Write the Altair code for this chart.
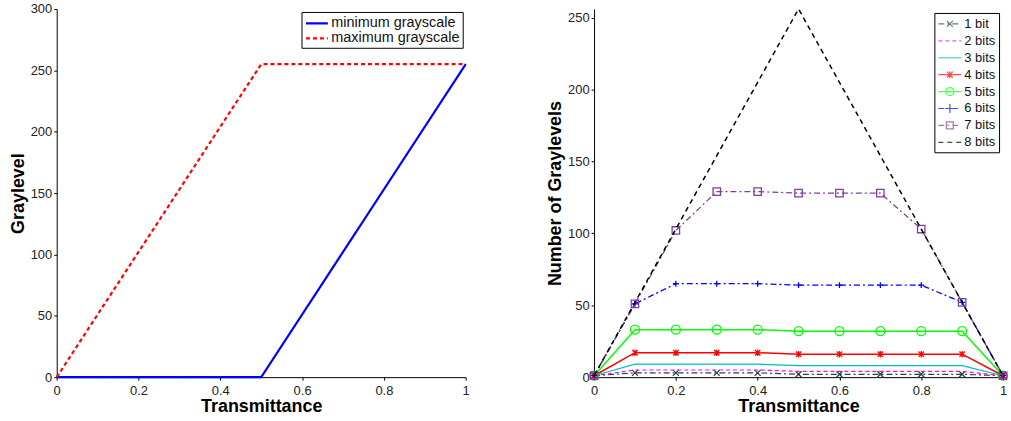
import altair as alt
import pandas as pd

# ---------------- data: left panel ----------------
left_t = [0, 0.5, 1]
min_grayscale = [0, 0, 255]
max_grayscale = [0, 255, 255]
left_names = ["minimum grayscale", "maximum grayscale"]

# ---------------- data: right panel ----------------
trans = [0, 0.1, 0.2, 0.3, 0.4, 0.5, 0.6, 0.7, 0.8, 0.9, 1.0]
bits_1 = [1, 3, 3, 3, 3, 2, 2, 2, 2, 2, 1]
bits_2 = [1, 5, 5, 5, 5, 4, 4, 4, 4, 4, 1]
bits_3 = [1, 9, 9, 9, 9, 8, 8, 8, 8, 8, 1]
bits_4 = [1, 17, 17, 17, 17, 16, 16, 16, 16, 16, 1]
bits_5 = [1, 33, 33, 33, 33, 32, 32, 32, 32, 32, 1]
bits_6 = [1, 51, 65, 65, 65, 64, 64, 64, 64, 52, 1]
bits_7 = [1, 51, 102, 129, 129, 128, 128, 128, 103, 52, 1]
bits_8 = [1, 52, 103, 154, 205, 256, 205, 154, 103, 52, 1]
right_names = ["1 bit", "2 bits", "3 bits", "4 bits", "5 bits", "6 bits", "7 bits", "8 bits"]
right_values = [bits_1, bits_2, bits_3, bits_4, bits_5, bits_6, bits_7, bits_8]

FONT = "Liberation Sans"

# ---------------- styles ----------------
X_MARK = "M-1,-1L1,1M-1,1L1,-1"
PLUS_MARK = "M-1,0L1,0M0,-1L0,1"
AST_MARK = "M-1,-1L1,1M-1,1L1,-1M0,-1.2L0,1.2"
styles = [
    dict(color="#244444", dash=[6, 3, 2, 3], width=1.2, marker=X_MARK, msize=36),
    dict(color="#ff00ff", dash=[4, 3], width=1.2, marker=None, msize=0),
    dict(color="#00bfbf", dash=None, width=1.2, marker=None, msize=0),
    dict(color="#ff0000", dash=None, width=1.5, marker=AST_MARK, msize=30),
    dict(color="#00ff00", dash=None, width=1.5, marker="circle", msize=81),
    dict(color="#0000ff", dash=[6, 3, 2, 3], width=1.3, marker=PLUS_MARK, msize=36),
    dict(color="#7f3f98", dash=[6, 3, 2, 3], width=1.3, marker="square", msize=56),
    dict(color="#000000", dash=[5, 4], width=1.5, marker=None, msize=0),
]

# legend symbol geometry (units: 1 unit = 7 px with symbolSize 196)
UNIT = 7.0
L0, L1 = -1.0, 2.3
MC = (L0 + L1) / 2


def dashed_path(pattern):
    if not pattern:
        return f"M{L0},0L{L1},0"
    segs = []
    pos = L0
    i = 0
    while pos < L1:
        L = pattern[i % len(pattern)] / UNIT
        end = min(pos + L, L1)
        if i % 2 == 0:
            segs.append(f"M{pos:.3f},0L{end:.3f},0")
        pos = end
        i += 1
    return "".join(segs)


def legend_marker(marker):
    if marker is None:
        return ""
    if marker == "circle":
        r = 0.57
        return f"M{MC - r:.3f},0A{r},{r} 0 1,0 {MC + r:.3f},0A{r},{r} 0 1,0 {MC - r:.3f},0"
    if marker == "square":
        s = 0.5
        return f"M{MC - s:.3f},{-s}L{MC + s:.3f},{-s}L{MC + s:.3f},{s}L{MC - s:.3f},{s}Z"
    if marker == PLUS_MARK:
        s = 0.64
        return f"M{MC - s:.3f},0L{MC + s:.3f},0M{MC:.3f},{-s}L{MC:.3f},{s}"
    s = 0.43
    p = f"M{MC - s:.3f},{-s}L{MC + s:.3f},{s}M{MC - s:.3f},{s}L{MC + s:.3f},{-s}"
    if marker == AST_MARK:
        p += f"M{MC:.3f},{-0.5}L{MC:.3f},{0.5}"
    return p


legend_paths = [dashed_path(st["dash"]) + legend_marker(st["marker"]) for st in styles]
legend_colors = [st["color"] for st in styles]
LABEL_OFF = (L1 - 1.0) * UNIT + 2

x_axis = alt.Axis(values=[0, 0.2, 0.4, 0.6, 0.8, 1], format="~g", title="Transmittance",
                  tickSize=3, labelPadding=4, titlePadding=1)

# ---------------- left chart ----------------
left_rows = []
for t, a, b in zip(left_t, min_grayscale, max_grayscale):
    left_rows.append({"t": t, "g": a, "s": left_names[0]})
    left_rows.append({"t": t, "g": b, "s": left_names[1]})
left_df = pd.DataFrame(left_rows)

left_legend = alt.Legend(title=None, orient="top-right", offset=3, strokeColor="black",
                         fillColor="white", padding=3, labelFontSize=14.5, labelFont=FONT,
                         labelColor="#111", symbolType="M-1,0L2.14,0", symbolSize=196,
                         symbolStrokeWidth=2.2, rowPadding=0, labelOffset=10)
left = alt.Chart(left_df).mark_line(strokeWidth=2.2).encode(
    x=alt.X("t:Q", scale=alt.Scale(domain=[0, 1], nice=False), axis=x_axis),
    y=alt.Y("g:Q", scale=alt.Scale(domain=[0, 300], nice=False),
            axis=alt.Axis(values=[0, 50, 100, 150, 200, 250, 300], title="Graylevel",
                          tickSize=3, labelPadding=2, titlePadding=3)),
    color=alt.Color("s:N", scale=alt.Scale(domain=left_names, range=["#0000ff", "#ff0000"]),
                    legend=left_legend),
    strokeDash=alt.StrokeDash("s:N", scale=alt.Scale(domain=left_names, range=[[1, 0], [4, 3]]),
                              legend=left_legend),
).properties(width=411, height=370)

# ---------------- right chart ----------------
rx = alt.X("t:Q", scale=alt.Scale(domain=[0, 1], nice=False), axis=x_axis)
ry = alt.Y("n:Q", scale=alt.Scale(domain=[0, 256], nice=False),
           axis=alt.Axis(values=[0, 50, 100, 150, 200, 250], title="Number of Graylevels",
                         tickSize=3, labelPadding=2, titlePadding=3))

layers = []
for name, vals, st in zip(right_names, right_values, styles):
    df = pd.DataFrame({"t": trans, "n": vals})
    lk = dict(color=st["color"], strokeWidth=st["width"])
    if st["dash"]:
        lk["strokeDash"] = st["dash"]
    layers.append(alt.Chart(df).mark_line(**lk).encode(x=rx, y=ry))
    if st["marker"]:
        layers.append(alt.Chart(df).mark_point(shape=st["marker"], size=st["msize"], filled=False,
                                               color=st["color"], strokeWidth=1.3, opacity=1)
                      .encode(x=rx, y=ry))

right_legend = alt.Legend(title=None, orient="top-right", offset=4, strokeColor="black",
                          fillColor="white", padding=3, labelFontSize=13, labelFont=FONT,
                          labelColor="#111", symbolSize=196, symbolStrokeWidth=1.2,
                          rowPadding=2, labelOffset=LABEL_OFF)
leg_df = pd.DataFrame({"t": [0.0] * len(right_names), "n": [-1] * len(right_names), "r": right_names})
legend_layer = alt.Chart(leg_df).mark_point(filled=False).encode(
    x=rx, y=ry,
    color=alt.Color("r:N", scale=alt.Scale(domain=right_names, range=legend_colors), legend=right_legend),
    shape=alt.Shape("r:N", scale=alt.Scale(domain=right_names, range=legend_paths), legend=right_legend),
).transform_filter("datum.n >= 0")
layers.append(legend_layer)

right = alt.layer(*layers).properties(width=411, height=370)

chart = alt.hconcat(left, right, spacing=76).resolve_scale(
    color="independent", strokeDash="independent", shape="independent"
).resolve_legend(
    color="independent", strokeDash="independent", shape="independent"
).properties(
    padding={"left": 9, "top": 2, "right": 0, "bottom": 0}
).configure_view(stroke=None).configure_axis(
    grid=False, domainColor="#000", tickColor="#000", labelColor="#222", labelFont=FONT,
    labelFontSize=13, titleFont=FONT, titleFontSize=18, titleFontWeight="bold", titleColor="#000",
    domainWidth=1, labelFlush=False
)

chart.save("out.html", embed_options={"renderer": "svg", "actions": False})
